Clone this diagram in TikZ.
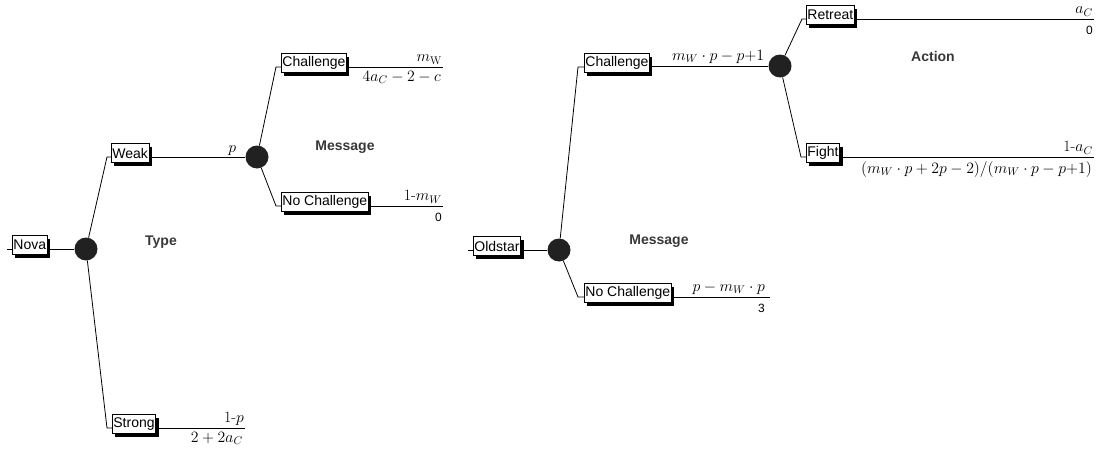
\RequirePackage{fix-cm}
\documentclass[tikz,border=0pt]{standalone}
\usepackage{fontspec}
\newfontfamily\arial{Liberation Sans}
\usetikzlibrary{shadows,calc}
\begin{document}
\begin{tikzpicture}[x=1pt,y=-1pt,
  box/.style={draw=black, line width=0.8pt, fill=white, anchor=west, yshift=4pt,
    inner xsep=1pt, inner ysep=0pt, minimum height=19pt,
    font=\arial\fontsize{14}{15}\selectfont,
    drop shadow={shadow xshift=3pt, shadow yshift=-3pt, fill=black, opacity=1}},
  chance/.style={circle, fill=black!87, inner sep=0pt, minimum size=23pt},
  br/.style={line width=0.8pt},
  payup/.style={anchor=south east, inner xsep=1pt, inner ysep=2.5pt, font=\fontsize{15.8}{16}\selectfont},
  paydn/.style={anchor=north east, inner xsep=2pt, inner ysep=4pt, font=\fontsize{15.8}{16}\selectfont},
  paydnsans/.style={anchor=north east, inner xsep=1pt, inner ysep=6.5pt, font=\arial\fontsize{12}{13}\selectfont},
  lbl/.style={font=\arial\bfseries\fontsize{14}{15}\selectfont, text=black!78}]
\useasboundingbox (0,0) rectangle (1097,455);

% ---------------- left tree ----------------
\coordinate (t1) at (7,249);
\node[box] (nova) at (12,249) {Nova};
\node[chance] (c1) at (86,249) {};
\coordinate (k1) at (107,157);
\node[box] (weak) at (111,157) {Weak};
\node[chance] (c2) at (257,157) {};
\coordinate (k2) at (276,67);
\node[box] (chA) at (281,67) {Challenge};
\coordinate (e2) at (443,67);
\coordinate (k3) at (276,206);
\node[box] (ncA) at (281,206) {No Challenge};
\coordinate (e3) at (443,206);
\coordinate (k4) at (107,428);
\node[box] (strong) at (112,428) {Strong};
\coordinate (e4) at (245,428);

\draw[br] (t1) -- (nova.west |- t1);
\draw[br] (nova.east |- c1) -- (c1);
\draw[br] (c1) -- (k1) -- (weak.west |- k1);
\draw[br] (weak.east |- c2) -- (c2);
\draw[br] (c2) -- (k2) -- (chA.west |- k2);
\draw[br] (c2) -- (k3) -- (ncA.west |- k3);
\draw[br] (c1) -- (k4) -- (strong.west |- k4);
\draw[br] (chA.east |- e2) -- (e2);
\draw[br] (ncA.east |- e3) -- (e3);
\draw[br] (strong.east |- e4) -- (e4);

\node[anchor=south east, inner sep=1pt, font=\fontsize{15.8}{16}\selectfont] (plbl) at ($(c2.west)+(-8,0)$) {$p$};
\node[payup] (u2) at (e2) {$m_{\mathrm{W}}$};
\node[paydn] (d2) at (e2) {$4a_C-2-c$};
\node[payup] (u3) at (e3) {1-$m_W$};
\node[paydnsans] (d3) at (e3) {0};
\node[payup] (u4) at (e4) {1-$p$};
\node[paydn] (d4) at (e4) {$2+2a_C$};

\node[lbl] (type) at (161,242) {Type};
\node[lbl] (msgA) at (345,147) {Message};

% ---------------- right tree ----------------
\coordinate (t2) at (468,250);
\node[box] (old) at (473,250) {Oldstar};
\node[chance] (c3) at (559,250) {};
\coordinate (k5) at (578,67);
\node[box] (chB) at (584,67) {Challenge};
\node[chance] (c4) at (780,66) {};
\coordinate (k6) at (578,297);
\node[box] (ncB) at (584,297) {No Challenge};
\coordinate (e6) at (770,297);
\coordinate (k7) at (802,19);
\node[box] (ret) at (806,19) {Retreat};
\coordinate (e7) at (1094,19);
\coordinate (k8) at (801,157);
\node[box] (fight) at (806,157) {Fight};
\coordinate (e8) at (1094,157);

\draw[br] (t2) -- (old.west |- t2);
\draw[br] (old.east |- c3) -- (c3);
\draw[br] (c3) -- (k5) -- (chB.west |- k5);
\draw[br] (chB.east |- c4) -- (c4);
\draw[br] (c3) -- (k6) -- (ncB.west |- k6);
\draw[br] (ncB.east |- e6) -- (e6);
\draw[br] (c4) -- (k7) -- (ret.west |- k7);
\draw[br] (c4) -- (k8) -- (fight.west |- k8);
\draw[br] (ret.east |- e7) -- (e7);
\draw[br] (fight.east |- e8) -- (e8);

\node[payup] (ub) at ($(c4.west)+(-3,0)$) {$m_W\cdot p-p{+}1$};
\node[payup] (u6) at ($(e6)+(-4,0)$) {$p-m_W\cdot p$};
\node[paydnsans] (d6) at ($(e6)+(-4,0)$) {3};
\node[payup] (u7) at (e7) {$a_C$};
\node[paydnsans] (d7) at (e7) {0};
\node[payup] (u8) at (e8) {1-$a_C$};
\node[paydn] (d8) at (e8) {$(m_W\cdot p+2p-2)/(m_W\cdot p-p{+}1)$};

\node[lbl] (msgB) at (659,241) {Message};
\node[lbl] (act) at (933,56) {Action};
\end{tikzpicture}
\end{document}
